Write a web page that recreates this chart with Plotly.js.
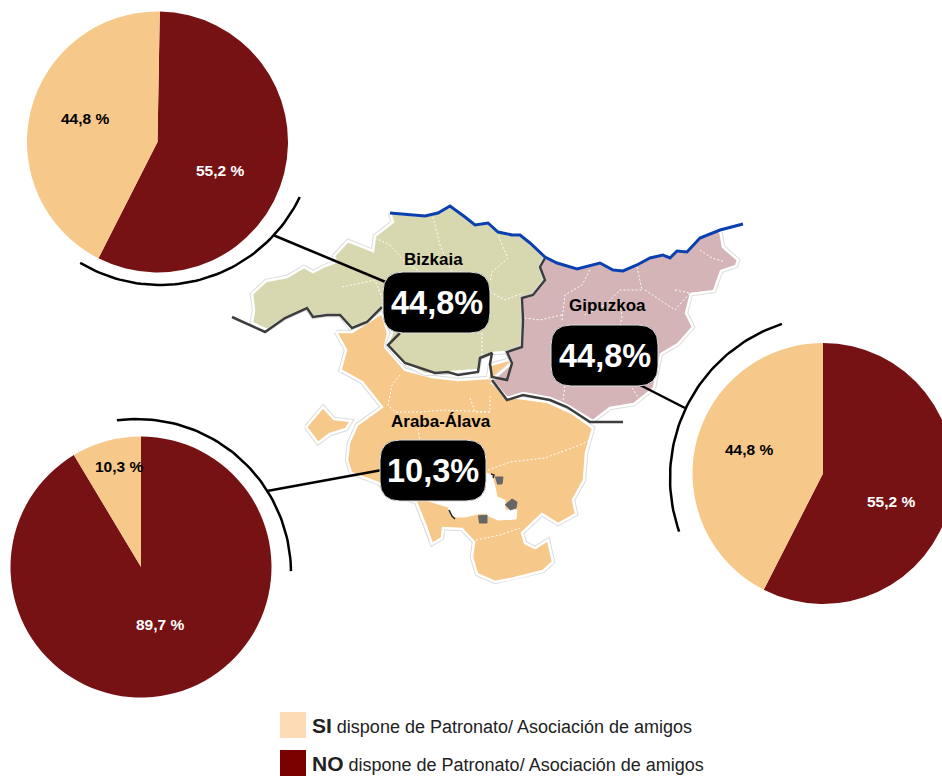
<!DOCTYPE html>
<html><head><meta charset="utf-8">
<script src="https://cdn.plot.ly/plotly-3.0.1.min.js"></script>
<style>html,body{margin:0;padding:0;background:#fff;overflow:hidden}#w{width:942px;height:776px;overflow:hidden}#c{width:960px;height:776px}</style>
</head><body><div id="w"><div id="c"></div></div>
<script>
// Data
const provinces = ["Bizkaia","Gipuzkoa","Araba-Álava"];
const siValues = [44.8,44.8,10.3];
const noValues = [55.2,55.2,89.7];
// wedge sizes as actually drawn in the picture (they differ from the printed labels)
const siWedges = [42.8,42.5,8.6];
const noWedges = [57.2,57.5,91.4];
const pieRotation = [1,0,0];
const legendLabels = ["SI","NO"];
const legendText = " dispone de Patronato/ Asociación de amigos";
// Layout helpers
const W=960,H=776;
const FONT='"Liberation Sans", Arial, sans-serif';
const NARROW='"Liberation Sans Narrow", "Liberation Sans", Arial, sans-serif';
const SI='#F6C88A', NO='#761214';
const pieGeom=[{cx:157.5,cy:142,r:130.5},{cx:823,cy:473.5,r:130.5},{cx:141,cy:567,r:130.5}];
const arcs=[{cx:160,cy:130,r:155,a0:121,a1:25.6},{cx:832,cy:478,r:162,a0:-108,a1:-199.3},{cx:137,cy:573,r:154,a0:-97.5,a1:-0.7}];
const connectors=[[[273,388],[235,283]],[[640,685],[385,408]],[[267,382],[491,470]]];
const siLabelPos=[[85,119],[749,450],[119,467]];
const noLabelPos=[[220,171],[891,502],[160,625]];
const regionLabelPos=[[433,259],[607,305],[441,421]];
const badgeBox=[[383,490,272,333],[551,658,325,386],[380,486,440,501]];

// Map outlines (decorative geography)
const bizkaiaX=[390,405,425,438,450,465,475,488,498,512,520,530,545,540,545,533,522,523,522,508,492,480,478,452,425,402,387,392,382,365,350,340,325,313,307,285,267,252,254,252,266,287,304,313,325,336,334,348,373,375,393];
const bizkaiaY=[213,214,216,213,206,217,225,223,232,235,235,243,257,267,280,295,298,320,347,352,353,358,370,372,374,362,345,333,307,323,328,315,315,317,308,318,330,323,310,294,281,277,267,272,266,262,256,241,251,236,222];
const gipuzkoaX=[545,557,577,600,613,623,637,650,663,670,677,687,700,720,723,738,736,721,714,691,686,693,678,661,656,654,634,610,593,567,550,523,507,492,512,507,522,523,522,533,545,540];
const gipuzkoaY=[257,263,269,263,270,271,265,258,255,258,251,252,238,230,247,260,266,271,291,294,313,327,344,354,377,388,404,408,421,405,398,393,398,380,363,352,347,320,298,295,280,267];
const arabaX=[336,352,368,382,388,385,405,432,458,488,490,508,512,500,492,512,548,572,593,586,584,573,576,558,542,522,525,535,548,553,543,515,495,477,472,474,462,443,442,432,426,416,400,378,351,347,349,357,382,362,342,340,346];
const arabaY=[332,332,322,313,333,347,370,377,380,378,365,360,362,372,383,397,402,413,428,453,480,500,514,524,514,533,543,548,540,562,571,578,582,574,557,542,529,528,538,544,527,502,497,483,473,460,443,425,407,382,371,372,350];
const exclaveX=[306,323,334,351,346,330,318];
const exclaveY=[427,407,419,421,429,434,443];
const holeX=[486,492,495,497,505,505,517,516,498,482,465,452,448,425,440];
const holeY=[473,475,487,497,500,510,510,519,520,513,517,517,507,500,495];
const blobs=[[[495,503,502,497],[477,477,484,484]],[[505,512,517,516,510],[505,499,502,508,510]],[[478,487,487,479],[516,515,523,523]]];
const specks=[[[449,452,455],[510,516,519]],[[491,494,493],[474,475,478]]];
const coastX=[390,405,425,438,450,465,475,488,498,512,520,530,545,557,577,600,613,623,637,650,663,670,677,687,700,720,743];
const coastY=[213,214,216,213,206,217,225,223,232,235,235,243,257,263,269,263,270,271,265,258,255,258,251,252,238,230,224];
const borderA=[[232,250,265,285,307,313,327,340,352,367,382],[317,325,332,318,308,317,315,315,328,322,307]];
const borderB=[[400,388,405,435,448,458,478,480,492,490,492,507,512,507,522,523,522,533,545,540,545],[333,345,363,373,372,375,372,358,353,364,377,380,363,352,347,320,298,295,280,267,258]];
const borderC=[[492,507,523,550,567,590,623],[380,400,395,400,407,422,422]];
const inner=[
 [[433,440,450,452],[217,245,268,272]],[[497,502,508,492,490],[232,245,258,272,282]],
 [[375,390,405,420],[238,245,262,272]],[[490,505,523],[292,300,293]],
 [[482,482,478],[333,355,368]],[[342,375,383,383],[287,280,300,320]],
 [[590,582,565,562],[270,285,295,320]],[[637,642,620,605,585],[267,290,290,305,315]],
 [[645,675,690,675],[290,310,293,290]],[[700,712,725],[250,258,262]],
 [[562,540,525],[315,320,318]],[[620,622,620],[300,318,325]],[[565,563],[386,400]],[[632,640],[388,400]],
 [[400,392,388,395,420,445,490],[375,385,405,412,412,410,412]],[[470,475,490,490],[398,412,412,395]],
 [[420,418,420],[425,430,440]],[[488,510,545,580,590],[470,462,458,445,440]],[[476,500,520],[540,535,528]]
];
function arcPts(a){const x=[],y=[];const n=60;for(let i=0;i<=n;i++){const t=(a.a0+(a.a1-a.a0)*i/n)*Math.PI/180;x.push(a.cx+a.r*Math.cos(t));y.push(a.cy+a.r*Math.sin(t));}return [x,y];}
const base={type:'scatter',mode:'lines',hoverinfo:'skip',showlegend:false,xaxis:'x',yaxis:'y'};
const traces=[];
function region(x,y,col){
 traces.push({...base,x:x.concat(x[0]),y:y.concat(y[0]),line:{color:'#dcdcdc',width:4.5}});
 traces.push({...base,x:x.concat(x[0]),y:y.concat(y[0]),line:{color:'#fff',width:2.5},fill:'toself',fillcolor:col});
}
region(arabaX,arabaY,SI);region(exclaveX,exclaveY,SI);
region(bizkaiaX,bizkaiaY,'#D8D8B0');region(gipuzkoaX,gipuzkoaY,'#D4B4B6');
traces.push({...base,x:holeX,y:holeY,fill:'toself',fillcolor:'#fff',line:{color:'#fff',width:1}});
blobs.forEach(b=>traces.push({...base,x:b[0],y:b[1],fill:'toself',fillcolor:'#666',line:{color:'#666',width:1}}));
specks.forEach(b=>traces.push({...base,x:b[0],y:b[1],line:{color:'#222',width:1.5}}));
inner.forEach(l=>traces.push({...base,x:l[0],y:l[1],line:{color:'#fff',width:1,dash:'2px,2px'}}));
[borderA,borderB,borderC].forEach(b=>traces.push({...base,x:b[0],y:b[1],line:{color:'#3d3d3d',width:2.5}}));
traces.push({...base,x:coastX,y:coastY.map(v=>v-3.5),line:{color:'#fff',width:5}});
traces.push({...base,x:coastX,y:coastY,line:{color:'#0A3FB0',width:3}});
arcs.forEach(a=>{const p=arcPts(a);traces.push({...base,x:p[0],y:p[1],line:{color:'#000',width:2.5}});});
connectors.forEach(c=>traces.push({...base,x:c[0],y:c[1],line:{color:'#000',width:2.5}}));
pieGeom.forEach((g,i)=>traces.push({type:'pie',values:[noWedges[i],siWedges[i]],labels:['NO','SI'],sort:false,direction:'clockwise',rotation:pieRotation[i],
 marker:{colors:[NO,SI],line:{width:0}},textinfo:'none',hoverinfo:'label+percent',showlegend:false,
 domain:{x:[(g.cx-g.r)/W,(g.cx+g.r)/W],y:[1-(g.cy+g.r)/H,1-(g.cy-g.r)/H]}}));
const fmt=v=>v.toFixed(1).replace('.',',');
const ann=[];
function t(x,y,text,size,color,font,anchor){ann.push({xref:'x',yref:'y',x:x,y:y,text:text,showarrow:false,xanchor:anchor||'center',yanchor:'middle',font:{family:font||FONT,size:size,color:color}});}
provinces.forEach((p,i)=>{
 t(siLabelPos[i][0],siLabelPos[i][1]-0.5,'<b>'+fmt(siValues[i])+' %</b>',15.5,'#000',NARROW);
 t(noLabelPos[i][0],noLabelPos[i][1]-0.5,'<b>'+fmt(noValues[i])+' %</b>',15.5,'#fff',NARROW);
 t(regionLabelPos[i][0],regionLabelPos[i][1],'<b>'+p+'</b>',17,'#000');
 const b=badgeBox[i];
 t((b[0]+b[1])/2,(b[2]+b[3])/2,'<b>'+fmt(siValues[i])+'%</b>',32.5,'#fff');
});
const legendY=[726,764], legendCol=['#FDDCB5','#7B0000'];
legendLabels.forEach((l,i)=>t(309.5,legendY[i]-0.5,'<b style="font-size:21px">'+l+'</b>'+legendText,18,'#222',NARROW,'left'));
const shapes=badgeBox.map(b=>{const r=20,[x0,x1,y0,y1]=b;return {type:'path',xref:'x',yref:'y',layer:'above',
 path:`M${x0+r},${y0} L${x1-r},${y0} Q${x1},${y0} ${x1},${y0+r} L${x1},${y1-r} Q${x1},${y1} ${x1-r},${y1} L${x0+r},${y1} Q${x0},${y1} ${x0},${y1-r} L${x0},${y0+r} Q${x0},${y0} ${x0+r},${y0} Z`,
 fillcolor:'#000',line:{color:'#ddd',width:1}};});
legendY.forEach((y,i)=>shapes.push({type:'rect',xref:'x',yref:'y',layer:'above',x0:280,x1:306,y0:y-14,y1:y+12,fillcolor:legendCol[i],line:{width:0}}));
Plotly.newPlot('c',traces,{width:W,height:H,margin:{l:0,r:0,t:0,b:0,pad:0},paper_bgcolor:'#fff',plot_bgcolor:'#fff',
 xaxis:{range:[0,W],visible:false,fixedrange:true},yaxis:{range:[H,0],visible:false,fixedrange:true},annotations:ann,shapes:shapes,showlegend:false},{displayModeBar:false,staticPlot:true});
</script></body></html>
